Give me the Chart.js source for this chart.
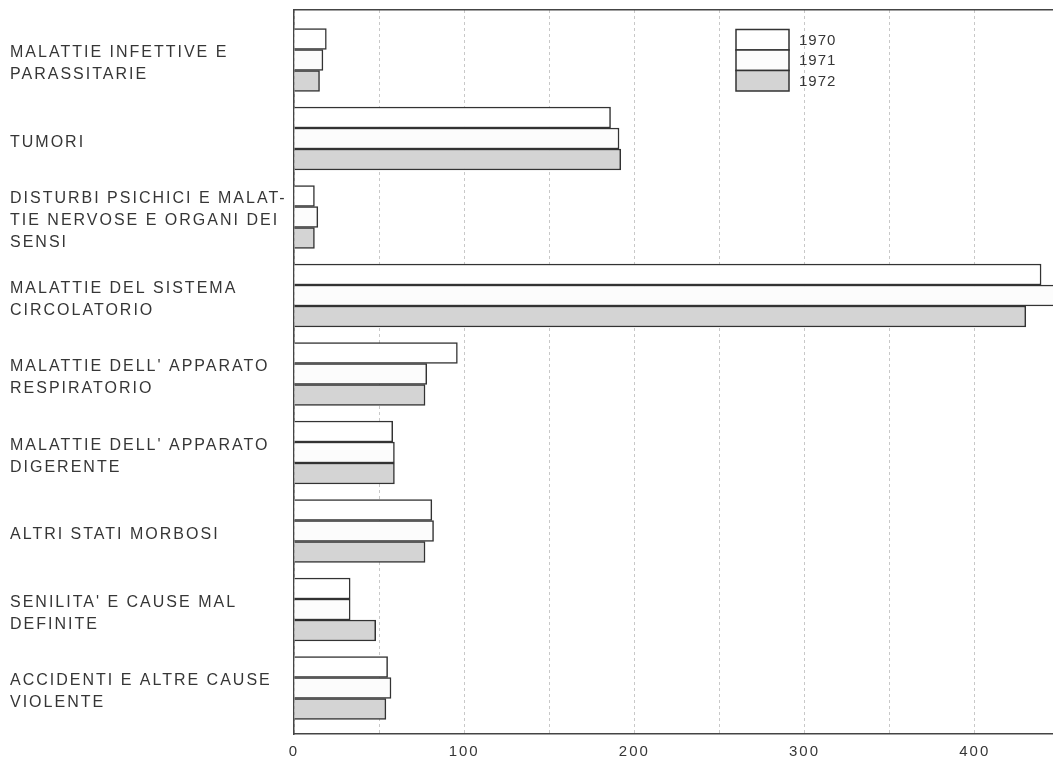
<!DOCTYPE html>
<html lang="it">
<head>
  <meta charset="UTF-8" />
  <title>Cause di morte 1970-1972</title>
  <script src="https://cdn.jsdelivr.net/npm/chart.js"></script>
  <style>
    html, body {
      margin: 0;
      padding: 0;
      background: #fff;
    }
    .wrap {
      width: 1053px;
      height: 759px;
      position: relative;
    }
  </style>
</head>
<body>
  <div class="wrap">
    <canvas id="causeChart"></canvas>
  </div>

  <script>
    const categories = [
      ['MALATTIE INFETTIVE E', 'PARASSITARIE'],
      ['TUMORI'],
      ['DISTURBI PSICHICI E MALAT-', 'TIE NERVOSE E ORGANI DEI', 'SENSI'],
      ['MALATTIE DEL SISTEMA', 'CIRCOLATORIO'],
      ["MALATTIE DELL' APPARATO", 'RESPIRATORIO'],
      ["MALATTIE DELL' APPARATO", 'DIGERENTE'],
      ['ALTRI STATI MORBOSI'],
      ["SENILITA' E CAUSE MAL", 'DEFINITE'],
      ['ACCIDENTI E ALTRE CAUSE', 'VIOLENTE']
    ];
    const years = ['1970', '1971', '1972'];
    const values1970 = [19, 186, 12, 439, 96, 58, 81, 33, 55];
    const values1971 = [17, 191, 14, 448, 78, 59, 82, 33, 57];
    const values1972 = [15, 192, 12, 430, 77, 59, 77, 48, 54];
    const xTicks = [0, 100, 200, 300, 400];

    const toPoints = vals => vals.map((v, i) => ({ x: v, y: i }));

    const textColor = '#363636';
    const edge = '#333';
    const fontFamily = '"Liberation Sans", Arial, sans-serif';

    const barStyle = {
      borderColor: edge,
      borderWidth: 1.5,
      barThickness: 21
    };

    // letter spaced lettering, like the printed original
    const spacing = {
      id: 'spacing',
      beforeUpdate(chart) { chart.ctx.letterSpacing = '2px'; },
      beforeDraw(chart) { chart.ctx.letterSpacing = '2px'; }
    };

    // stacked legend boxes inside the plot, upper right
    const boxLegend = {
      id: 'boxLegend',
      afterDraw(chart) {
        const { ctx, chartArea } = chart;
        const left = chartArea.right - 317;
        const top = chartArea.top + 19.5;
        const w = 53, h = 20.5;
        ctx.save();
        ctx.letterSpacing = '1px';
        ctx.font = '15px ' + fontFamily;
        ctx.textBaseline = 'middle';
        ctx.textAlign = 'left';
        chart.data.datasets.forEach((ds, i) => {
          const y = top + i * h;
          ctx.fillStyle = ds.backgroundColor;
          ctx.fillRect(left, y, w, h);
          ctx.lineWidth = 1.5;
          ctx.strokeStyle = edge;
          ctx.strokeRect(left, y, w, h);
          ctx.fillStyle = textColor;
          ctx.fillText(ds.label, left + w + 10, y + h / 2 + 1);
        });
        ctx.restore();
      }
    };

    new Chart(document.getElementById('causeChart'), {
      type: 'bar',
      data: {
        datasets: [
          { label: years[0], data: toPoints(values1970), backgroundColor: '#ffffff', ...barStyle },
          { label: years[1], data: toPoints(values1971), backgroundColor: '#fcfcfc', ...barStyle },
          { label: years[2], data: toPoints(values1972), backgroundColor: '#d4d4d4', ...barStyle }
        ]
      },
      options: {
        indexAxis: 'y',
        responsive: true,
        maintainAspectRatio: false,
        animation: false,
        layout: { padding: { top: 10, left: 10, right: 0, bottom: 0 } },
        scales: {
          x: {
            type: 'linear',
            position: 'bottom',
            min: 0,
            max: 446,
            grid: { color: '#c8c8c8', lineWidth: 1, drawTicks: false },
            border: { color: '#444', width: 1.5, dash: [3, 3] },
            afterBuildTicks: s => { s.ticks = [0, 50, 100, 150, 200, 250, 300, 350, 400].map(v => ({ value: v })); },
            ticks: {
              autoSkip: false,
              maxRotation: 0,
              padding: 9,
              color: textColor,
              font: { family: fontFamily, size: 15 },
              callback: v => (xTicks.includes(v) ? v : '')
            },
            afterFit: s => { s.height = 25; s.paddingLeft = 0; s.paddingRight = 0; }
          },
          xTop: {
            type: 'linear',
            position: 'top',
            grid: { display: false, drawTicks: false },
            border: { color: '#444', width: 1.5 },
            ticks: { display: false },
            afterFit: s => { s.height = 0; }
          },
          y: {
            type: 'linear',
            reverse: true,
            offset: false,
            min: -0.637,
            max: 8.586,
            grid: { display: false, offset: false },
            border: { color: '#444', width: 1.5 },
            afterBuildTicks: s => { s.ticks = categories.map((_, i) => ({ value: i })); },
            ticks: {
              autoSkip: false,
              crossAlign: 'far',
              labelOffset: 4,
              color: textColor,
              font: { family: fontFamily, size: 16, lineHeight: 1.38 },
              callback: v => categories[v]
            },
            afterFit: s => { s.width = 284; s.paddingTop = 0; s.paddingBottom = 0; }
          }
        },
        plugins: {
          legend: { display: false },
          tooltip: { enabled: false }
        }
      },
      plugins: [spacing, boxLegend]
    });
  </script>
</body>
</html>
